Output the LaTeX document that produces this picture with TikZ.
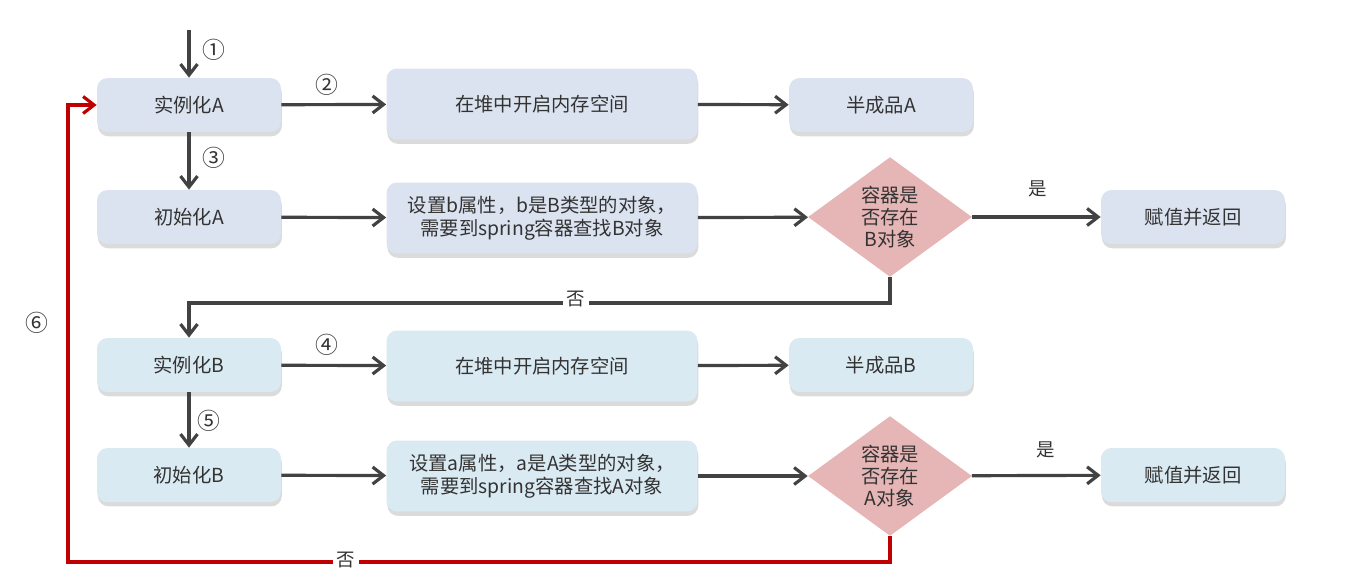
\documentclass[tikz,border=0pt]{standalone}
\usepackage{fontspec}
\setmainfont{Noto Sans CJK SC}
\usetikzlibrary{positioning,shapes.geometric,arrows.meta,shadows}

\definecolor{boxblue}{HTML}{DCE3F0}
\definecolor{boxcyan}{HTML}{DAEAF2}
\definecolor{diapink}{HTML}{E6B5B5}
\definecolor{linegray}{HTML}{424242}
\definecolor{loopred}{HTML}{C00000}
\definecolor{textgray}{HTML}{333333}

\tikzset{
  stepbox/.style={rounded corners=6pt, minimum width=3.68cm, minimum height=1.08cm,
    text=textgray, font=\fontsize{11pt}{13pt}\selectfont,
    drop shadow={shadow xshift=0.5pt, shadow yshift=-2.5pt, fill=black!35, opacity=0.4}},
  widebox/.style={stepbox, minimum width=6.22cm, minimum height=1.42cm, align=center},
  checknode/.style={diamond, fill=diapink, inner sep=0pt, minimum width=3.28cm,
    minimum height=2.1cm, align=center, text=textgray,
    font=\fontsize{11pt}{12.5pt}\selectfont},
  flow/.style={draw=linegray, line width=1.8pt, -{Straight Barb[length=2.2mm,width=3.4mm]}},
  backflow/.style={flow, draw=loopred},
  numlbl/.style={text=textgray, font=\fontsize{13pt}{15pt}\selectfont},
  yesno/.style={text=textgray, font=\fontsize{10.5pt}{12pt}\selectfont, fill=white, inner sep=2pt}
}

\begin{document}
\begin{tikzpicture}[x=0.02cm,y=-0.02cm]
    \useasboundingbox (0,0) rectangle (1352,577);

    % bean A
    \node[stepbox, fill=boxblue] (instA) at (189,105) {实例化A};
    \node[widebox, fill=boxblue] (heapA) at (542,104) {在堆中开启内存空间};
    \node[stepbox, fill=boxblue] (halfA) at (881,105) {半成品A};
    \node[stepbox, fill=boxblue] (initA) at (189,217) {初始化A};
    \node[widebox, fill=boxblue] (setB) at (542,218)
        {设置b属性，b是B类型的对象，\\需要到spring容器查找B对象};
    \node[checknode] (chkB) at (890,217) {容器是\\否存在\\B对象};
    \node[stepbox, fill=boxblue] (retB) at (1193,217) {赋值并返回};

    % bean B
    \node[stepbox, fill=boxcyan] (instB) at (189,365) {实例化B};
    \node[widebox, fill=boxcyan] (heapB) at (542,366) {在堆中开启内存空间};
    \node[stepbox, fill=boxcyan] (halfB) at (881,365) {半成品B};
    \node[stepbox, fill=boxcyan] (initB) at (189,475) {初始化B};
    \node[widebox, fill=boxcyan] (setA) at (542,476)
        {设置a属性，a是A类型的对象，\\需要到spring容器查找A对象};
    \node[checknode] (chkA) at (890,476) {容器是\\否存在\\A对象};
    \node[stepbox, fill=boxcyan] (retA) at (1193,475) {赋值并返回};

    \coordinate (entry) at (189,30);
    \coordinate (noB) at (189,303);
    \coordinate (loopL) at (68,562);

    % connectors
    \draw[flow] (entry) -- (instA);
    \draw[flow] (instA) -- (heapA);
    \draw[flow] (heapA) -- (halfA);
    \draw[flow] (instA) -- (initA);
    \draw[flow] (initA) -- (setB);
    \draw[flow] (setB) -- (chkB);
    \draw[flow] (chkB) -- (retB);
    \draw[flow] (chkB.south) |- (noB) -- (instB.north);
    \draw[flow] (instB) -- (heapB);
    \draw[flow] (heapB) -- (halfB);
    \draw[flow] (instB) -- (initB);
    \draw[flow] (initB) -- (setA);
    \draw[flow] (setA) -- (chkA);
    \draw[flow] (chkA) -- (retA);
    \draw[backflow] (chkA.south) |- (loopL) |- (instA.west);

    % labels
    \node[numlbl] (n1) at (214,50) {①};
    \node[numlbl] (n2) at (327,85) {②};
    \node[numlbl] (n3) at (214,158) {③};
    \node[numlbl] (n4) at (327,345) {④};
    \node[numlbl] (n5) at (209,421) {⑤};
    \node[numlbl] (n6) at (37,323) {⑥};
    \node[yesno] (yesB) at (1038,189) {是};
    \node[yesno] (yesA) at (1046,450) {是};
    \node[yesno] (noBlbl) at (576,299) {否};
    \node[yesno] (noAlbl) at (346,560) {否};
\end{tikzpicture}
\end{document}
